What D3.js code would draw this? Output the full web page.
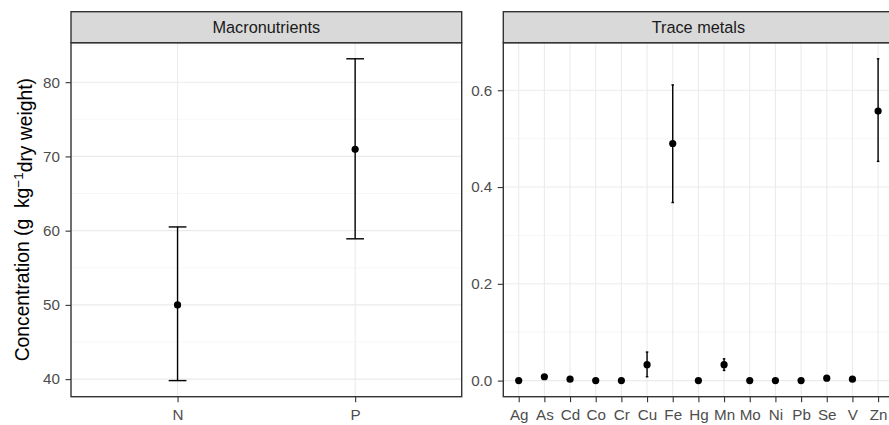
<!DOCTYPE html>
<html>
<head>
<meta charset="utf-8">
<script src="https://cdn.jsdelivr.net/npm/d3@7"></script>
<style>
  body { margin: 0; background: #fff; }
  svg { display: block; font-family: "Liberation Sans", Arial, sans-serif; }
</style>
</head>
<body>
<svg width="889" height="425"></svg>
<script>
// macronutrients (g/kg)
var macroNames = ["N", "P"];
var macroMean = [50.0, 70.95];
var macroLow = [39.8, 58.9];
var macroHigh = [60.5, 83.15];

// trace metals (null = no error bar)
var metalNames = ["Ag", "As", "Cd", "Co", "Cr", "Cu", "Fe", "Hg", "Mn", "Mo", "Ni", "Pb", "Se", "V", "Zn"];
var metalMean = [0, 0.008, 0.003, 0, 0, 0.033, 0.490, 0, 0.033, 0, 0, 0, 0.005, 0.003, 0.557];
var metalLow = [null, null, null, null, null, 0.008, 0.368, null, 0.021, null, null, null, null, null, 0.453];
var metalHigh = [null, null, null, null, null, 0.059, 0.611, null, 0.045, null, null, null, null, null, 0.665];

var macroTicks = [40, 50, 60, 70, 80];
var macroMinor = [45, 55, 65, 75, 85];
var metalTicks = [0, 0.2, 0.4, 0.6];
var metalMinor = [0.1, 0.3, 0.5];

var svg = d3.select("svg");
var stripTop = 11.7, stripBottom = 42.7, panelBottom = 396.7;
var tickLen = 5.5;

function drawPanel(opt) {
    var names = opt.names;
    var rows = names.map(function (n, i) {
        return {
            name: n, mean: opt.mean[i],
            lo: opt.lo[i] == null ? opt.mean[i] : opt.lo[i],
            hi: opt.hi[i] == null ? opt.mean[i] : opt.hi[i],
            bar: opt.lo[i] != null
        };
    });
    var ymin = d3.min(rows, function (d) { return d.lo; });
    var ymax = d3.max(rows, function (d) { return d.hi; });
    var pad = (ymax - ymin) * 0.05;

    var x = d3.scalePoint().domain(names).range([opt.x0, opt.x1]).padding(0.6);
    var y = d3.scaleLinear().domain([ymin - pad, ymax + pad]).range([panelBottom, stripBottom]);
    var step = x.step();

    var g = svg.append("g");

    // grid
    g.selectAll(".minor").data(opt.minor).enter().append("line")
        .attr("x1", opt.x0).attr("x2", opt.x1)
        .attr("y1", function (d) { return y(d); }).attr("y2", function (d) { return y(d); })
        .attr("stroke", "#f2f2f2").attr("stroke-width", 0.6);
    g.selectAll(".major").data(opt.ticks).enter().append("line")
        .attr("x1", opt.x0).attr("x2", opt.x1)
        .attr("y1", function (d) { return y(d); }).attr("y2", function (d) { return y(d); })
        .attr("stroke", "#ebebeb").attr("stroke-width", 1.1);
    g.selectAll(".vgrid").data(names).enter().append("line")
        .attr("x1", function (d) { return x(d); }).attr("x2", function (d) { return x(d); })
        .attr("y1", stripBottom).attr("y2", panelBottom)
        .attr("stroke", "#ebebeb").attr("stroke-width", 1.1);

    // error bars
    var eb = g.selectAll(".eb").data(rows.filter(function (d) { return d.bar; })).enter().append("g")
        .attr("stroke", "#000").attr("stroke-width", 1.4);
    eb.append("line")
        .attr("x1", function (d) { return x(d.name); }).attr("x2", function (d) { return x(d.name); })
        .attr("y1", function (d) { return y(d.lo); }).attr("y2", function (d) { return y(d.hi); });
    ["lo", "hi"].forEach(function (k) {
        eb.append("line")
            .attr("x1", function (d) { return x(d.name) - step * 0.05; })
            .attr("x2", function (d) { return x(d.name) + step * 0.05; })
            .attr("y1", function (d) { return y(d[k]); }).attr("y2", function (d) { return y(d[k]); });
    });

    // points
    g.selectAll(".pt").data(rows).enter().append("circle")
        .attr("cx", function (d) { return x(d.name); })
        .attr("cy", function (d) { return y(d.mean); })
        .attr("r", 3.6).attr("fill", "#000");

    // axes
    var ya = g.append("g").attr("transform", "translate(" + opt.x0 + ",0)")
        .call(d3.axisLeft(y).tickValues(opt.ticks).tickFormat(opt.fmt).tickSize(tickLen).tickPadding(5.5));
    var xa = g.append("g").attr("transform", "translate(0," + panelBottom + ")")
        .call(d3.axisBottom(x).tickSize(tickLen).tickPadding(7.5));
    [ya, xa].forEach(function (a) {
        a.select(".domain").remove();
        a.selectAll("line").attr("stroke", "#333").attr("stroke-width", 1.1);
        a.selectAll("text").attr("fill", "#4d4d4d").style("font-size", "15.2px")
            .style("font-family", "'Liberation Sans', Arial, sans-serif");
    });

    // panel border + strip
    g.append("rect").attr("x", opt.x0).attr("y", stripBottom)
        .attr("width", opt.x1 - opt.x0).attr("height", panelBottom - stripBottom)
        .attr("fill", "none").attr("stroke", "#333").attr("stroke-width", 1.4);
    g.append("rect").attr("x", opt.x0).attr("y", stripTop)
        .attr("width", opt.x1 - opt.x0).attr("height", stripBottom - stripTop)
        .attr("fill", "#d9d9d9").attr("stroke", "#333").attr("stroke-width", 1.4);
    g.append("text").attr("x", (opt.x0 + opt.x1) / 2).attr("y", (stripTop + stripBottom) / 2)
        .attr("dy", "0.35em").attr("text-anchor", "middle")
        .attr("fill", "#1a1a1a").style("font-size", "16.3px").text(opt.title);
}

drawPanel({
    names: macroNames, mean: macroMean, lo: macroLow, hi: macroHigh,
    ticks: macroTicks, minor: macroMinor, fmt: d3.format("d"),
    x0: 71, x1: 461.7, title: "Macronutrients"
});
drawPanel({
    names: metalNames, mean: metalMean, lo: metalLow, hi: metalHigh,
    ticks: metalTicks, minor: metalMinor, fmt: d3.format(".1f"),
    x0: 503.3, x1: 893.5, title: "Trace metals"
});

// y axis title
var yt = svg.append("text")
    .attr("transform", "translate(29," + ((stripBottom + panelBottom) / 2) + ") rotate(-90)")
    .attr("text-anchor", "middle").attr("fill", "#000")
    .style("font-size", "19.3px").style("white-space", "pre");
yt.append("tspan").text("Concentration (g  kg");
yt.append("tspan").attr("dy", "-0.45em").style("font-size", "13.5px").text("\u22121");
yt.append("tspan").attr("dy", "0.45em").text("dry weight)");
</script>
</body>
</html>
